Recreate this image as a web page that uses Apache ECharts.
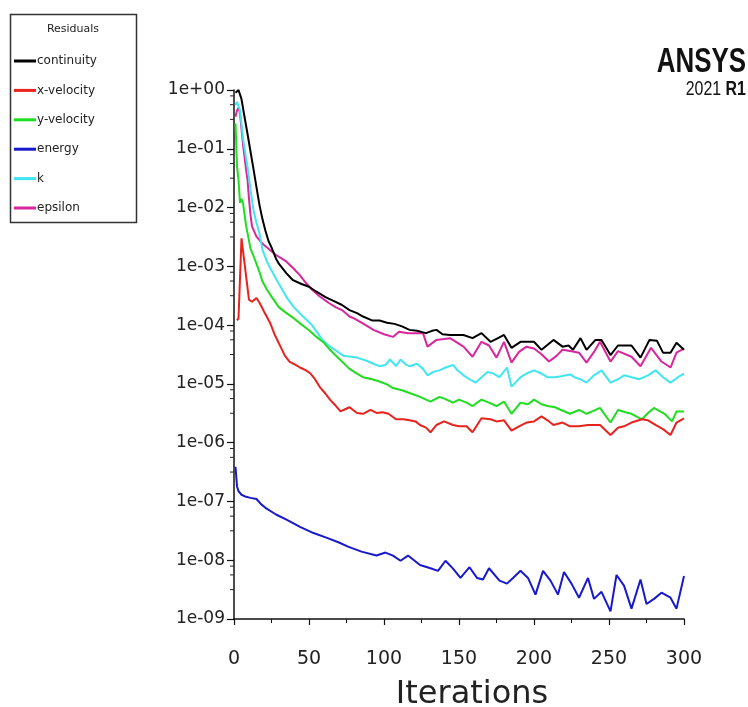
<!DOCTYPE html>
<html>
<head>
<meta charset="utf-8">
<script src="https://cdn.jsdelivr.net/npm/echarts@6/dist/echarts.min.js"></script>
<style>
html,body{margin:0;padding:0;background:#fff;}
#chart{width:748px;height:707px;}
</style>
</head>
<body>
<div id="chart"></div>
<script>
// ---- data: [iteration, residual] ----
const seriesNames = ['continuity', 'x-velocity', 'y-velocity', 'energy', 'k', 'epsilon'];
const xTickValues = [0, 50, 100, 150, 200, 250, 300];
const yTickLabels = ['1e-09','1e-08','1e-07','1e-06','1e-05','1e-04','1e-03','1e-02','1e-01','1e+00'];

const continuity = [[1,0.9],[2,0.95],[3,1.0],[4,0.93],[5,0.7],[7,0.35],[9,0.18],[11,0.09],[13,0.045],[15,0.022],[17,0.011],[19,0.0063],[21,0.004],[23,0.0027],[25,0.0021],[28,0.00135],[30,0.0011],[35,0.00076],[39,0.00059],[45,0.0005],[50,0.00045],[55,0.00037],[61,0.0003],[66,0.00026],[72,0.00022],[77,0.00018],[82,0.00016],[86,0.00014],[92,0.00012],[97,0.00012],[102,0.00011],[107,0.000105],[112,0.000095],[117,0.000083],[122,0.00008],[128,0.000073],[132,0.00008],[135,0.000083],[139,0.00007],[144,0.000068],[148,0.000068],[153,0.000068],[159,0.00006],[165,0.000073],[171,0.000052],[176,0.00006],[180,0.000068],[185,0.000041],[191,0.000052],[196,0.000052],[200,0.000052],[205,0.000038],[213,0.000056],[219,0.000043],[223,0.000045],[226,0.000038],[231,0.00006],[235,0.000038],[241,0.000056],[245,0.000056],[251,0.000031],[256,0.000045],[265,0.000045],[271,0.000028],[277,0.000056],[282,0.000054],[286,0.000034],[291,0.000034],[295,0.00005],[300,0.000038]];

const xVelocity = [[2,0.00012],[3,0.00013],[5,0.003],[10,0.00027],[12,0.00025],[15,0.00029],[17,0.00024],[20,0.00017],[24,0.00011],[27,0.00007],[31,0.000043],[34,0.00003],[37,0.000024],[41,0.000021],[44,0.000019],[48,0.000017],[51,0.000015],[54,0.000012],[57,0.000009],[61,0.0000068],[64,0.0000054],[68,0.0000042],[71,0.0000034],[73,0.0000036],[77,0.000004],[82,0.0000032],[86,0.0000031],[91,0.0000036],[95,0.0000032],[99,0.0000033],[103,0.0000031],[108,0.0000025],[113,0.0000025],[117,0.0000024],[121,0.0000023],[124,0.000002],[128,0.0000018],[131,0.0000015],[135,0.000002],[140,0.0000023],[146,0.000002],[150,0.0000019],[155,0.0000019],[159,0.0000015],[165,0.0000026],[171,0.0000025],[175,0.0000023],[180,0.0000024],[185,0.0000016],[190,0.0000019],[195,0.0000022],[200,0.0000023],[205,0.0000028],[209,0.0000024],[213,0.000002],[219,0.0000022],[224,0.0000019],[230,0.0000019],[236,0.000002],[244,0.000002],[251,0.00000135],[256,0.0000018],[260,0.0000019],[265,0.0000022],[272,0.0000025],[276,0.0000024],[281,0.000002],[286,0.0000017],[291,0.00000135],[295,0.0000022],[300,0.0000026]];

const yVelocity = [[1,0.27],[2,0.05],[3,0.03],[4,0.012],[5,0.014],[6,0.012],[8,0.005],[9,0.0037],[11,0.002],[13,0.0015],[15,0.0011],[17,0.0008],[19,0.00055],[22,0.0004],[26,0.00028],[30,0.0002],[35,0.00016],[40,0.00013],[44,0.000107],[50,0.000082],[55,0.000063],[60,0.00005],[64,0.000038],[68,0.00003],[72,0.000024],[77,0.000018],[82,0.000015],[86,0.000013],[92,0.000012],[97,0.000011],[102,0.0000098],[106,0.0000085],[112,0.0000078],[117,0.000007],[124,0.000006],[131,0.000005],[137,0.000006],[141,0.0000055],[146,0.0000048],[150,0.0000054],[155,0.0000048],[159,0.0000042],[165,0.0000054],[170,0.0000048],[175,0.0000042],[180,0.000005],[185,0.0000031],[191,0.0000048],[196,0.0000045],[200,0.0000054],[205,0.0000045],[209,0.0000042],[214,0.000004],[218,0.0000036],[224,0.0000031],[230,0.0000036],[235,0.0000031],[240,0.0000035],[244,0.0000039],[251,0.0000022],[256,0.0000036],[261,0.0000033],[265,0.0000031],[272,0.0000025],[276,0.0000032],[280,0.0000039],[287,0.0000031],[292,0.0000023],[295,0.0000034],[300,0.0000034]];

const energy = [[1,3.9e-7],[2,1.8e-7],[3,1.5e-7],[5,1.3e-7],[8,1.2e-7],[11,1.15e-7],[15,1.1e-7],[18,9e-8],[21,7.8e-8],[28,6e-8],[35,4.9e-8],[44,3.7e-8],[53,2.9e-8],[62,2.4e-8],[70,2e-8],[76,1.7e-8],[85,1.4e-8],[95,1.2e-8],[101,1.35e-8],[106,1.2e-8],[111,9.8e-9],[116,1.2e-8],[120,1e-8],[124,8.3e-9],[131,7.3e-9],[136,6.6e-9],[141,9.8e-9],[146,7.2e-9],[151,5e-9],[157,7.6e-9],[162,5e-9],[166,4.7e-9],[170,7.3e-9],[177,4.5e-9],[182,4e-9],[186,5e-9],[191,6.6e-9],[196,5e-9],[201,2.6e-9],[206,6.6e-9],[211,4.5e-9],[216,2.6e-9],[220,6.3e-9],[225,4e-9],[230,2.3e-9],[236,5e-9],[240,2.2e-9],[245,2.9e-9],[251,1.35e-9],[255,5.6e-9],[260,3.7e-9],[265,1.5e-9],[271,4.7e-9],[275,1.8e-9],[280,2.2e-9],[285,2.8e-9],[291,2.3e-9],[295,1.5e-9],[300,5.4e-9]];

const kResidual = [[1,0.55],[2,0.63],[3,0.6],[4,0.45],[6,0.15],[8,0.07],[9,0.05],[11,0.02],[13,0.009],[15,0.0055],[17,0.0036],[19,0.0019],[22,0.0012],[26,0.00076],[30,0.0005],[35,0.0003],[40,0.0002],[46,0.00014],[52,0.0001],[59,0.000056],[64,0.000043],[68,0.000037],[73,0.00003],[78,0.000029],[82,0.000028],[88,0.000025],[93,0.000022],[97,0.00002],[101,0.000021],[104,0.000026],[108,0.00002],[111,0.000026],[115,0.000021],[117,0.00002],[122,0.000022],[126,0.000018],[129,0.000014],[133,0.000016],[137,0.000017],[141,0.000019],[146,0.000021],[149,0.000017],[153,0.000014],[157,0.000012],[161,0.0000105],[165,0.000013],[169,0.000016],[173,0.000015],[177,0.000013],[182,0.000019],[185,0.000009],[191,0.000013],[195,0.000015],[200,0.000017],[205,0.000015],[209,0.000013],[214,0.000013],[218,0.0000135],[224,0.0000145],[227,0.000013],[231,0.000012],[235,0.0000105],[240,0.000014],[245,0.000017],[251,0.0000105],[256,0.000012],[260,0.000014],[265,0.000013],[270,0.000012],[276,0.000014],[281,0.000017],[286,0.000013],[291,0.0000105],[296,0.000013],[300,0.000015]];

const epsilon = [[1,0.35],[2,0.45],[3,0.5],[4,0.4],[6,0.12],[8,0.045],[9,0.03],[10,0.014],[11,0.0075],[12,0.0048],[15,0.0032],[17,0.0028],[20,0.0023],[24,0.0019],[28,0.00156],[33,0.0013],[35,0.0012],[40,0.0009],[44,0.0007],[48,0.00052],[52,0.0004],[57,0.00031],[63,0.00024],[68,0.0002],[72,0.00018],[77,0.00014],[80,0.00013],[85,0.00011],[93,0.000083],[100,0.00007],[106,0.000063],[110,0.000077],[116,0.000073],[122,0.000073],[126,0.000073],[129,0.000043],[135,0.000056],[140,0.000058],[144,0.00006],[148,0.000052],[153,0.000043],[159,0.000029],[165,0.000052],[170,0.000045],[175,0.000028],[180,0.000052],[185,0.000023],[190,0.000035],[195,0.000043],[200,0.00004],[205,0.000032],[210,0.000024],[215,0.00003],[219,0.000038],[225,0.000036],[230,0.000034],[235,0.000023],[240,0.000035],[244,0.000052],[251,0.000024],[256,0.000036],[265,0.000029],[271,0.00002],[278,0.000041],[285,0.000024],[291,0.000019],[295,0.000034],[300,0.00004]];

// ---- styling ----
const colors = ['#000000', '#e8221c', '#20dd20', '#1818cc', '#40e6f0', '#d8269c'];
const seriesData = [continuity, xVelocity, yVelocity, energy, kResidual, epsilon];
const FONT = "'DejaVu Sans', 'Liberation Sans', Arial, sans-serif";
const LOGO_FONT = "'Liberation Sans', Arial, sans-serif";

// minor ticks on the log axis (offsets in decades below each major tick)
const minorOffsets = [0.1, 0.25, 0.5];
const minorTickVals = [];
for (let e = 0; e >= -8; e--) minorOffsets.forEach(o => minorTickVals.push([0, Math.pow(10, e - o)]));

const chart = echarts.init(document.getElementById('chart'), null, {renderer: 'canvas'});

const series = seriesNames.map((name, i) => ({
  name, type: 'line', data: seriesData[i], showSymbol: false, symbol: 'none',
  lineStyle: {width: 2, color: colors[i]}, itemStyle: {color: colors[i]},
  z: 10 - i, animation: false
}));
series.push({
  name: 'minorTicks', type: 'custom', data: minorTickVals, silent: true, clip: false,
  renderItem: (params, api) => {
    const p = api.coord([api.value(0), api.value(1)]);
    return {type: 'line', shape: {x1: p[0] - 4, y1: p[1], x2: p[0], y2: p[1]},
            style: {stroke: '#222', lineWidth: 1}};
  },
  animation: false
});

chart.setOption({
  backgroundColor: '#fff',
  animation: false,
  grid: {left: 234, right: 64, top: 90, bottom: 88, containLabel: false, outerBoundsMode: 'none'},
  legend: {
    data: seriesNames, orient: 'vertical', left: 9, top: 50,
    icon: 'rect', itemWidth: 22, itemHeight: 3, itemGap: 17.4,
    textStyle: {fontFamily: FONT, fontSize: 12, color: '#222', padding: [0, 0, 0, -4]},
    selectedMode: false
  },
  xAxis: {
    type: 'value', min: 0, max: 300, interval: 50,
    axisLine: {lineStyle: {color: '#111', width: 1.5}},
    axisTick: {show: true, length: 6, lineStyle: {color: '#111', width: 1.2}},
    minorTick: {show: true, splitNumber: 2, length: 4, lineStyle: {color: '#111', width: 1}},
    splitLine: {show: false},
    axisLabel: {fontFamily: FONT, fontSize: 19, color: '#222', margin: 31},
    name: 'Iterations', nameLocation: 'middle', nameGap: 60,
    nameTextStyle: {fontFamily: FONT, fontSize: 32, color: '#222', padding: [0, 0, 0, 26]}
  },
  yAxis: {
    type: 'log', logBase: 10, min: 1e-9, max: 1, splitNumber: 9,
    axisLine: {show: true, lineStyle: {color: '#111', width: 1.5}},
    axisTick: {show: true, length: 7, lineStyle: {color: '#111', width: 1.2}},
    splitLine: {show: false},
    axisLabel: {
      fontFamily: FONT, fontSize: 17, color: '#222', margin: 9,
      formatter: v => yTickLabels[Math.round(Math.log10(v)) + 9]
    }
  },
  graphic: [
    {type: 'rect', shape: {x: 10.5, y: 14.5, width: 126, height: 208},
     style: {fill: 'none', stroke: '#333', lineWidth: 1.5}},
    {type: 'text', x: 73, y: 29, style: {text: 'Residuals', font: '11px ' + FONT, fill: '#222',
      textAlign: 'center', textVerticalAlign: 'middle'}},
    {type: 'text', x: 746, y: 62, scaleX: 0.74, style: {text: 'ANSYS', font: 'bold 35px ' + LOGO_FONT,
      fill: '#111', textAlign: 'right', textVerticalAlign: 'middle'}},
    {type: 'text', x: 746, y: 89, scaleX: 0.76, style: {
      text: '{a|2021 }{b|R1}', textAlign: 'right', textVerticalAlign: 'middle', rich: {
        a: {font: '21px ' + LOGO_FONT, fill: '#111'},
        b: {font: 'bold 21px ' + LOGO_FONT, fill: '#111'}
      }}}
  ],
  series
});
</script>
</body>
</html>
